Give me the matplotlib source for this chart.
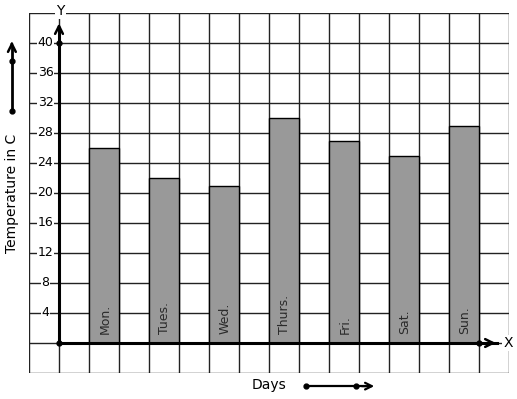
import matplotlib
matplotlib.use("Agg")
import matplotlib.pyplot as plt

days = ["Mon.", "Tues.", "Wed.", "Thurs.", "Fri.", "Sat.", "Sun."]
temps = [26, 22, 21, 30, 27, 25, 29]
y_ticks = [4, 8, 12, 16, 20, 24, 28, 32, 36, 40]

W, H = 517, 399
fig = plt.figure(figsize=(W / 100, H / 100), dpi=100)
# grid: 16 x 12 cells of 30 px, left 29 px, top 13 px
ax = fig.add_axes([29 / W, (H - 373) / H, 480 / W, 360 / H])
ax.set_xlim(-1, 15)
ax.set_ylim(-4, 44)
ax.set_axis_off()

grid_kw = dict(color="#222222", lw=1.0, zorder=1)
for gx in range(-1, 16):
    ax.axvline(gx, **grid_kw)
for gy in range(-4, 45, 4):
    ax.axhline(gy, **grid_kw)

# bars, one cell wide, every other cell starting at x=1
xpos = [1.5 + 2 * i for i in range(len(days))]
ax.bar(xpos, temps, width=1.0, color="#999999", edgecolor="black", lw=1.0, zorder=2)
for x, d in zip(xpos, days):
    ax.text(x + 0.03, 1.2, d, rotation=90, ha="center", va="bottom",
            fontsize=9, color="#2a2a2a", zorder=3)

# axes with arrows
ax.plot([0, 0], [0, 42], color="black", lw=2.2, zorder=4, clip_on=False)
ax.annotate("", xy=(0, 43.0), xytext=(0, 41.5),
            arrowprops=dict(arrowstyle="->", lw=1.8, color="black",
                            mutation_scale=14), annotation_clip=False)
ax.plot([0, 14.6], [0, 0], color="black", lw=2.2, zorder=4, clip_on=False)
ax.annotate("", xy=(14.65, 0), xytext=(14.2, 0),
            arrowprops=dict(arrowstyle="->", lw=1.8, color="black",
                            mutation_scale=14), annotation_clip=False)
ax.plot([0, 0, 14], [0, 40, 0], "o", color="black", ms=3.5, zorder=5, clip_on=False)

ax.text(0.05, 44.3, "Y", ha="center", va="center", fontsize=10, zorder=6,
        bbox=dict(facecolor="white", edgecolor="none", pad=1.0), clip_on=False)
ax.text(14.98, 0, "X", ha="center", va="center", fontsize=10, zorder=6,
        bbox=dict(facecolor="white", edgecolor="none", pad=1.0), clip_on=False)

for t in y_ticks:
    ax.text(-0.45, t, str(t), ha="center", va="center", fontsize=9, zorder=6,
            bbox=dict(facecolor="white", edgecolor="none", pad=0.3))

# axis titles with little arrows
ax.text(-1.57, 20.0, "Temperature in C", rotation=90, ha="center", va="center",
        fontsize=10, clip_on=False)
ax.plot([-1.57, -1.57], [30.9, 39.5], color="black", lw=2, clip_on=False)
ax.annotate("", xy=(-1.57, 40.6), xytext=(-1.57, 39.2),
            arrowprops=dict(arrowstyle="->", lw=1.8, color="black",
                            mutation_scale=14), annotation_clip=False)
ax.plot([-1.57, -1.57], [30.9, 37.6], "o", color="black", ms=3.5, clip_on=False)

ax.text(7.0, -5.6, "Days", ha="center", va="center", fontsize=10, clip_on=False)
ax.plot([8.23, 10.2], [-5.75, -5.75], color="black", lw=1.6, clip_on=False)
ax.annotate("", xy=(10.6, -5.75), xytext=(10.0, -5.75),
            arrowprops=dict(arrowstyle="->", lw=1.6, color="black",
                            mutation_scale=12), annotation_clip=False)
ax.plot([8.23, 9.9], [-5.75, -5.75], "o", color="black", ms=3.5, clip_on=False)

fig.savefig("out.png", dpi=100)
